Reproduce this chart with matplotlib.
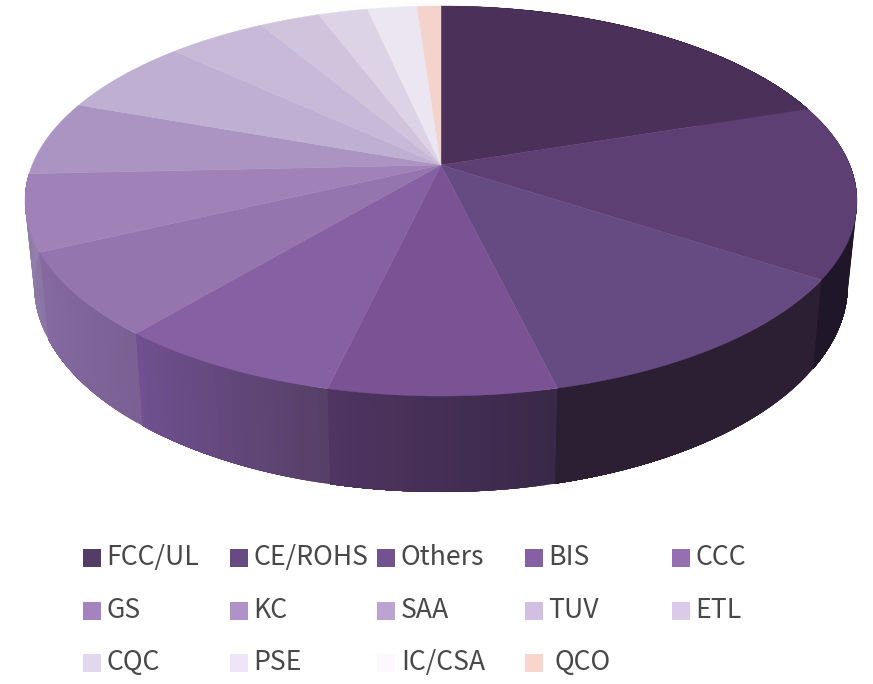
import numpy as np
import matplotlib.pyplot as plt
from matplotlib.patches import Polygon, Rectangle
from matplotlib.colors import to_rgb

plt.rcParams['font.family'] = ['Noto Sans CJK SC', 'DejaVu Sans']

# 항목, 비율(%)
labels = ['FCC/UL', 'CE/ROHS', 'Others', 'BIS', 'CCC', 'GS', 'KC',
          'SAA', 'TUV', 'ETL', 'CQC', 'PSE', 'IC/CSA', 'QCO']
shares = [19.9, 14.3, 12.0, 7.4, 7.4, 6.9, 6.3, 6.2, 6.4, 4.6, 2.8, 2.3, 2.3, 1.1]

# 색상
top_colors = ['#4b3059', '#5d3f74', '#664a82', '#7b5394', '#8560a3', '#9475ae', '#a082b8',
              '#ab93c2', '#bfafd2', '#c8b9d9', '#d0c4dd', '#dcd4e6', '#ebe6f2', '#f3d3cc']
legend_colors = ['#533c66', '#674a82', '#73538f', '#8660a2', '#9570b0', '#a583bf', '#af92c8',
                 '#bca3d3', '#d2bfe2', '#dbcbe8', '#e1d8ee', '#efe5f6', '#fdf7fe', '#f9d6cd']
wall_start = ['#1f162a', '#1f162a', '#2c1e33', '#3a2848', '#574068', '#7a6093', '#8a74a4']
wall_end = ['#1f162a', '#1f162a', '#2c1e33', '#4f3562', '#6f5090', '#846aa0', '#9480ac']

# 원근 적용된 원판 (픽셀 기준)
cx, cy = 441, 201
rx, ry = 416, 195
persp = 36 / ry
r_u = rx * np.sqrt(1 - persp ** 2)


def top_xy(deg):
    t = np.radians(deg)
    u, v = np.sin(t), np.cos(t)
    w = 1 + persp * v
    return cx + r_u * u / w, cy - (ry * v + 36) / w


def bottom_xy(deg):
    x, y = top_xy(deg)
    return cx + (x - cx) * 0.978, 492 + (y - 396) * 1.06


fig = plt.figure(figsize=(8.73, 6.84), dpi=100)
ax = fig.add_axes([0, 0, 1, 1])
ax.set_xlim(0, 873)
ax.set_ylim(684, 0)
ax.axis('off')

edges = np.concatenate([[0], np.cumsum(shares) / np.sum(shares) * 360])

# 옆면: 앞쪽 조각만 보임, 줄무늬 안 생기게 남은 구간을 덮어 그림
for i in range(7):
    steps = np.linspace(edges[i], edges[i + 1], 25)
    for j in range(len(steps) - 1):
        f = j / (len(steps) - 2)
        col = np.array(to_rgb(wall_start[i])) * (1 - f) + np.array(to_rgb(wall_end[i])) * f
        s = steps[j:]
        xt, yt = top_xy(s)
        xb, yb = bottom_xy(s)
        pts = np.column_stack([np.concatenate([xt, xb[::-1]]), np.concatenate([yt, yb[::-1]])])
        ax.add_patch(Polygon(pts, closed=True, facecolor=col, edgecolor='none'))

# 윗면
for i in range(len(shares)):
    a = np.linspace(edges[i], edges[i + 1], 80)
    xs, ys = top_xy(a)
    xs = np.concatenate([[cx], xs])
    ys = np.concatenate([[cy - 36], ys])
    ax.add_patch(Polygon(np.column_stack([xs, ys]), closed=True,
                         facecolor=top_colors[i], edgecolor=top_colors[i], lw=0.3))

# 범례
for i, name in enumerate(labels):
    row, col = i // 5, i % 5
    x0 = 83 + col * 147.2
    y0 = 549 + row * 52.5
    ax.add_patch(Rectangle((x0, y0), 18, 18, facecolor=legend_colors[i], edgecolor='none'))
    tx = x0 + 23.5
    if name == 'QCO':
        tx += 6
    ax.text(tx, y0 + 8.5, name, fontsize=19.2, color='#484848', va='center', ha='left')

fig.savefig('out.png', dpi=100)
